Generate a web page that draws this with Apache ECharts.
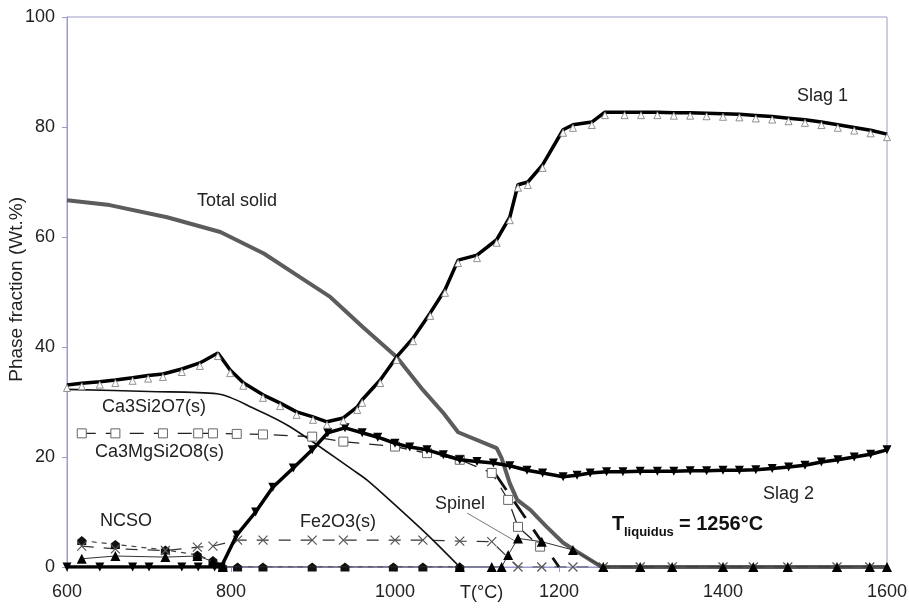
<!DOCTYPE html>
<html>
<head>
<meta charset="utf-8">
<script src="https://cdn.jsdelivr.net/npm/echarts@6/dist/echarts.min.js"></script>
<style>html,body{margin:0;padding:0;background:#fff}#c{width:909px;height:608px}</style>
</head>
<body>
<div id="c"></div>
<script>
// ---- data (T in °C, phase fraction in wt.%) ----
const xTicks = [600, 800, 1000, 1200, 1400, 1600];
const yTicks = [0, 20, 40, 60, 80, 100];

const totalSolid = [[600,66.7],[652,65.8],[722,63.6],[787,60.9],[840,57.0],[884,52.7],[921,49.1],[961,43.6],[1002,38.2],[1034,32.2],[1059,28.0],[1077,24.5],[1124,21.6],[1130,19.8],[1140,15.2],[1149,12.2],[1165,10.4],[1185,7.3],[1205,4.4],[1222,2.8],[1252,0],[1600,0]];

const slag1 = [[600,33.1],[618,33.4],[640,33.7],[659,34.0],[680,34.4],[699,34.8],[717,35.1],[740,36.0],[762,37.1],[784,38.9],[799,35.8],[815,33.5],[839,31.3],[860,29.8],[880,28.2],[900,27.3],[917,26.4],[937,27.1],[954,29.1],[960,30.4],[982,34.0],[1002,38.2],[1022,41.6],[1043,46.2],[1061,50.4],[1077,55.8],[1100,56.7],[1124,59.5],[1140,63.6],[1150,69.5],[1162,70.0],[1180,73.1],[1205,79.5],[1217,80.4],[1240,80.9],[1256,82.7],[1280,82.7],[1300,82.7],[1320,82.7],[1340,82.6],[1360,82.6],[1380,82.5],[1400,82.4],[1420,82.3],[1440,82.1],[1460,81.9],[1480,81.6],[1500,81.3],[1520,80.9],[1540,80.4],[1560,79.9],[1580,79.4],[1600,78.7]];

const slag2 = [[600,0],[640,0],[680,0],[700,0],[740,0],[760,0],[780,0],[788,0],[807,5.8],[830,10.0],[851,14.5],[876,18.0],[899,21.3],[918,24.4],[939,25.3],[960,24.4],[979,23.6],[1000,22.5],[1018,21.8],[1039,21.3],[1059,20.4],[1079,19.5],[1100,19.2],[1120,18.9],[1140,18.4],[1161,17.6],[1180,17.1],[1205,16.4],[1222,16.7],[1238,17.1],[1258,17.3],[1278,17.3],[1299,17.4],[1320,17.4],[1340,17.4],[1360,17.5],[1380,17.5],[1400,17.6],[1420,17.6],[1440,17.7],[1460,17.9],[1480,18.2],[1500,18.5],[1520,19.1],[1540,19.5],[1560,20.0],[1580,20.5],[1600,21.3]];

const ca3si2o7 = [[600,32.3],[700,31.9],[783,31.5],[830,28.7],[872,25.5],[949,17.6],[966,15.8],[1000,11.3],[1040,5.8],[1079,0]];

const ca3mgsi2o8 = [[618,24.3],[659,24.3],[717,24.3],[760,24.3],[778,24.3],[807,24.2],[839,24.1],[899,23.7],[937,22.8],[1000,21.9],[1039,20.7],[1079,19.5],[1118,17.1],[1138,12.2],[1150,7.3],[1177,3.7]];

const fe2o3 = [[618,3.8],[659,3.3],[720,3.0],[759,3.6],[778,3.8],[808,4.9],[839,4.9],[899,4.9],[937,4.9],[1000,4.9],[1034,4.9],[1079,4.7],[1118,4.6],[1150,0],[1179,0],[1217,0],[1254,0],[1299,0],[1338,0],[1400,0],[1437,0],[1479,0],[1539,0],[1579,0]];

const ncso = [[618,4.8],[659,4.1],[720,3.1],[759,2.2],[778,1.2],[790,0],[808,0],[839,0],[899,0],[939,0],[998,0],[1034,0],[1079,0]];

const spinel = [[618,1.5],[659,2.0],[720,1.8],[759,2.0],[778,1.0],[790,0],[1079,0],[1118,0],[1130,0],[1138,2.2],[1150,5.2],[1179,4.6],[1217,3.1],[1254,0],[1299,0],[1338,0],[1400,0],[1437,0],[1479,0],[1539,0],[1579,0],[1600,0]];

const thickDash = [[1122,17.0],[1200,0]];
const spinelLeader = [[1088,9.8],[1149,4.5]];

const labels = [
  {text:'Slag 1', x:797, y:97},
  {text:'Total solid', x:197, y:202},
  {text:'Ca3Si2O7(s)', x:102, y:408},
  {text:'Ca3MgSi2O8(s)', x:95, y:453},
  {text:'NCSO', x:100, y:522},
  {text:'Fe2O3(s)', x:300, y:523},
  {text:'Spinel', x:435, y:505},
  {text:'Slag 2', x:763, y:495},
  {text:'T(°C)', x:460, y:594}
];

const FONT = '"Liberation Sans", Arial, sans-serif';
const chart = echarts.init(document.getElementById('c'), null, {renderer:'canvas'});

const xSym = 'path://M0,0L10,10M10,0L0,10';
const houseSym = 'path://M5,0L10,4L10,10L0,10L0,4Z';

const graphics = labels.map(l => ({
  type:'text', left:l.x, top:l.y - 10, z:100,
  style:{text:l.text, font:'18px ' + FONT, fill:'#222'}
}));
graphics.push(
  {type:'text', left:612, top:514, z:100, style:{text:'T', font:'bold 20px ' + FONT, fill:'#111'}},
  {type:'text', left:624, top:526, z:100, style:{text:'liquidus', font:'bold 13px ' + FONT, fill:'#111'}},
  {type:'text', left:679, top:514, z:100, style:{text:'= 1256°C', font:'bold 20px ' + FONT, fill:'#111'}},
  {type:'text', left:7, top:197, z:100, rotation:Math.PI/2,
   style:{text:'Phase fraction (Wt.%)', font:'19px ' + FONT, fill:'#222'}}
);

chart.setOption({
  animation:false,
  backgroundColor:'#fff',
  grid:{left:67, right:22, top:17, bottom:41, containLabel:false, outerBoundsMode:'none',
        show:true, borderColor:'#9a9acc', borderWidth:1},
  xAxis:{
    type:'value', min:xTicks[0], max:xTicks[xTicks.length-1], interval:200,
    axisLine:{show:true, lineStyle:{color:'#9a9acc', width:1}},
    axisTick:{show:true, length:5, lineStyle:{color:'#9a9acc'}},
    axisLabel:{color:'#222', fontSize:18, fontFamily:FONT, margin:16, formatter:v => String(v)},
    splitLine:{show:false}
  },
  yAxis:{
    type:'value', min:yTicks[0], max:yTicks[yTicks.length-1], interval:20,
    axisLine:{show:true, lineStyle:{color:'#9a9acc', width:1}},
    axisTick:{show:true, length:5, lineStyle:{color:'#9a9acc'}},
    axisLabel:{color:'#222', fontSize:18, fontFamily:FONT, margin:12},
    splitLine:{show:false}
  },
  graphic:graphics,
  series:[
    {name:'NCSO', type:'line', data:ncso, showAllSymbol:true, symbol:houseSym, symbolSize:9,
     lineStyle:{color:'#444', width:1.2, type:[5,5]}, itemStyle:{color:'#111'}, z:3},
    {name:'Spinel', type:'line', data:spinel, showAllSymbol:true, symbol:'triangle', symbolSize:10,
     lineStyle:{color:'#333', width:1}, itemStyle:{color:'#000'}, z:4},
    {name:'Fe2O3(s)', type:'line', data:fe2o3, showAllSymbol:true, symbol:xSym, symbolSize:9,
     lineStyle:{color:'#333', width:1.2, type:[12,10]}, itemStyle:{color:'rgba(0,0,0,0)', borderColor:'#555', borderWidth:1.2}, z:3},
    {name:'Ca3MgSi2O8(s)', type:'line', data:ca3mgsi2o8, showAllSymbol:true, symbol:'rect', symbolSize:9,
     lineStyle:{color:'#222', width:1.3, type:[14,10]}, itemStyle:{color:'#fff', borderColor:'#666', borderWidth:1}, z:3},
    {name:'Ca3Si2O7(s)', type:'line', data:ca3si2o7, symbol:'none', smooth:0.3,
     lineStyle:{color:'#111', width:1.6}, z:3},
    {name:'thick', type:'line', data:thickDash, symbol:'none',
     lineStyle:{color:'#111', width:2.8, type:[20,14]}, z:3},
    {name:'leader', type:'line', data:spinelLeader, symbol:'none',
     lineStyle:{color:'#555', width:0.8}, z:3},
    {name:'Total solid', type:'line', data:totalSolid, symbol:'none',
     lineStyle:{color:'#5c5c5c', width:4}, z:2},
    {name:'Slag 2', type:'line', data:slag2, showAllSymbol:true, symbol:'triangle', symbolRotate:180, symbolSize:9,
     lineStyle:{color:'#000', width:3.5}, itemStyle:{color:'#000'}, z:5},
    {name:'Slag 1', type:'line', data:slag1, showAllSymbol:true, symbol:'triangle', symbolSize:7, symbolOffset:[0,3],
     lineStyle:{color:'#000', width:3.5}, itemStyle:{color:'#fff', borderColor:'#777', borderWidth:0.8}, z:6}
  ]
});
</script>
</body>
</html>
